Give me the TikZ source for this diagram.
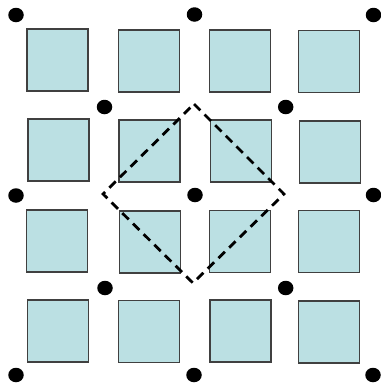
\documentclass[tikz,border=0pt]{standalone}
\usetikzlibrary{shapes.geometric}
\begin{document}
\begin{tikzpicture}[x=1pt,y=-1pt,
  cell/.style={draw=black!75,line width=1.2pt,fill=cellblue,minimum width=61pt,minimum height=62pt,inner sep=0pt,outer sep=0pt},
  dot/.style={fill=black,ellipse,minimum width=15.5pt,minimum height=14.5pt,inner sep=0pt},
  diamondline/.style={line width=2.8pt,dash pattern=on 9pt off 6pt,line join=miter}]
\definecolor{cellblue}{HTML}{BBE0E3}
\useasboundingbox (0,0) rectangle (380,388);
% squares
\node[cell] (s11) at (57.5,60) {};
\node[cell] (s12) at (148.7,61) {};
\node[cell] (s13) at (240.3,61) {};
\node[cell] (s14) at (328.8,61.5) {};
\node[cell] (s21) at (58.5,150) {};
\node[cell] (s22) at (149.5,151) {};
\node[cell] (s23) at (241,151) {};
\node[cell] (s24) at (329.7,152) {};
\node[cell] (s31) at (57,241) {};
\node[cell] (s32) at (149.7,242) {};
\node[cell] (s33) at (239.8,241.5) {};
\node[cell] (s34) at (329,241.5) {};
\node[cell] (s41) at (57.8,331) {};
\node[cell] (s42) at (148.8,331.7) {};
\node[cell] (s43) at (240.5,331) {};
\node[cell] (s44) at (329,332) {};
% dots
\node[dot] (d1) at (16,15) {};
\node[dot] (d2) at (194.5,14.5) {};
\node[dot] (d3) at (373.5,15) {};
\node[dot] (d4) at (16,195.5) {};
\node[dot] (d5) at (195,195) {};
\node[dot] (d6) at (373.5,195) {};
\node[dot] (d7) at (16,375) {};
\node[dot] (d8) at (194,375) {};
\node[dot] (d9) at (373,375) {};
\node[dot] (e1) at (104.5,107) {};
\node[dot] (e2) at (285.7,107) {};
\node[dot] (e3) at (105,288) {};
\node[dot] (e4) at (285.7,288) {};
% dashed diamond
\coordinate (pt) at (194,104);
\coordinate (pr) at (284,194);
\coordinate (pb) at (193,283);
\coordinate (pl) at (103,194);
\draw[diamondline] (pt) -- (pr) -- (pb) -- (pl) -- cycle;
\end{tikzpicture}
\end{document}
